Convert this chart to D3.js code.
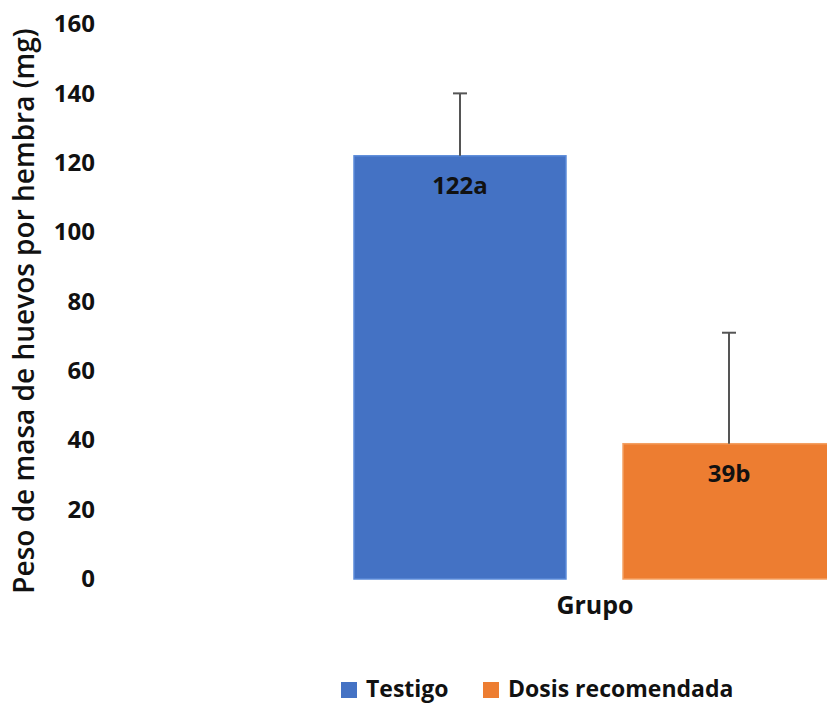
<!DOCTYPE html>
<html><head><meta charset="utf-8">
<script src="https://cdn.jsdelivr.net/npm/d3@7"></script>
<style>body{margin:0;background:#fff}svg{display:block}</style>
</head><body>
<svg id="c" width="827" height="704"></svg>
<script>
const groups = ["Testigo", "Dosis recomendada"];
const values = [122, 39];
const errors = [18, 32];
const valueLabels = ["122a", "39b"];
const colors = ["#4472C4", "#ED7D31"];
const strokes = ["#5B8BD9", "#F4A062"];
const yTicks = [0, 20, 40, 60, 80, 100, 120, 140, 160];
const yTitle = "Peso de masa de huevos por hembra (mg)";
const xTitle = "Grupo";

const svg = d3.select("#c");
const font = "'Open Sans', sans-serif";

const y = d3.scaleLinear().domain([0, 160]).range([579, 24]);
const x = d3.scaleBand().domain(groups).range([354, 835]).paddingInner(0.212).paddingOuter(0);

// y axis (labels only)
const yAxis = d3.axisLeft(y).tickValues(yTicks).tickSize(0).tickPadding(0);
const gy = svg.append("g").attr("transform", "translate(95,0)").call(yAxis);
gy.select(".domain").remove();
gy.selectAll("text").attr("font-family", font).attr("font-size", 24).attr("font-weight", 700).attr("fill", "#111");

// bars
svg.selectAll("rect.bar").data(groups).join("rect")
  .attr("class", "bar")
  .attr("x", d => x(d))
  .attr("width", x.bandwidth())
  .attr("y", (d, i) => y(values[i]))
  .attr("height", (d, i) => y(0) - y(values[i]))
  .attr("fill", (d, i) => colors[i])
  .attr("stroke", (d, i) => strokes[i])
  .attr("stroke-width", 1.5);

// error bars
const eb = svg.selectAll("g.err").data(groups).join("g").attr("class", "err");
eb.append("line")
  .attr("x1", d => x(d) + x.bandwidth() / 2).attr("x2", d => x(d) + x.bandwidth() / 2)
  .attr("y1", (d, i) => y(values[i])).attr("y2", (d, i) => y(values[i] + errors[i]))
  .attr("stroke", "#555").attr("stroke-width", 2);
eb.append("line")
  .attr("x1", d => x(d) + x.bandwidth() / 2 - 7).attr("x2", d => x(d) + x.bandwidth() / 2 + 7)
  .attr("y1", (d, i) => y(values[i] + errors[i])).attr("y2", (d, i) => y(values[i] + errors[i]))
  .attr("stroke", "#555").attr("stroke-width", 2);

// value labels
svg.selectAll("text.vl").data(groups).join("text")
  .attr("class", "vl")
  .attr("x", d => x(d) + x.bandwidth() / 2)
  .attr("y", (d, i) => y(values[i]) + 32)
  .attr("text-anchor", "middle").attr("dominant-baseline", "middle")
  .attr("font-family", font).attr("font-size", 24).attr("font-weight", 700).attr("fill", "#111")
  .text((d, i) => valueLabels[i]);

// axis titles
svg.append("text")
  .attr("transform", "translate(27,311) rotate(-90)")
  .attr("text-anchor", "middle").attr("dominant-baseline", "middle")
  .attr("font-family", font).attr("font-size", 28).attr("font-weight", 600).attr("fill", "#111")
  .text(yTitle);
svg.append("text")
  .attr("x", 595).attr("y", 607)
  .attr("text-anchor", "middle").attr("dominant-baseline", "middle")
  .attr("font-family", font).attr("font-size", 25).attr("font-weight", 700).attr("fill", "#111")
  .text(xTitle);

// legend
const legX = [341, 483];
const lg = svg.selectAll("g.leg").data(groups).join("g").attr("class", "leg")
  .attr("transform", (d, i) => `translate(${legX[i]},682)`);
lg.append("rect").attr("width", 16).attr("height", 16).attr("fill", (d, i) => colors[i]);
lg.append("text").attr("x", 25).attr("y", 9).attr("dominant-baseline", "middle")
  .attr("font-family", font).attr("font-size", 23).attr("font-weight", 700).attr("fill", "#111")
  .text(d => d);
</script>
</body></html>
